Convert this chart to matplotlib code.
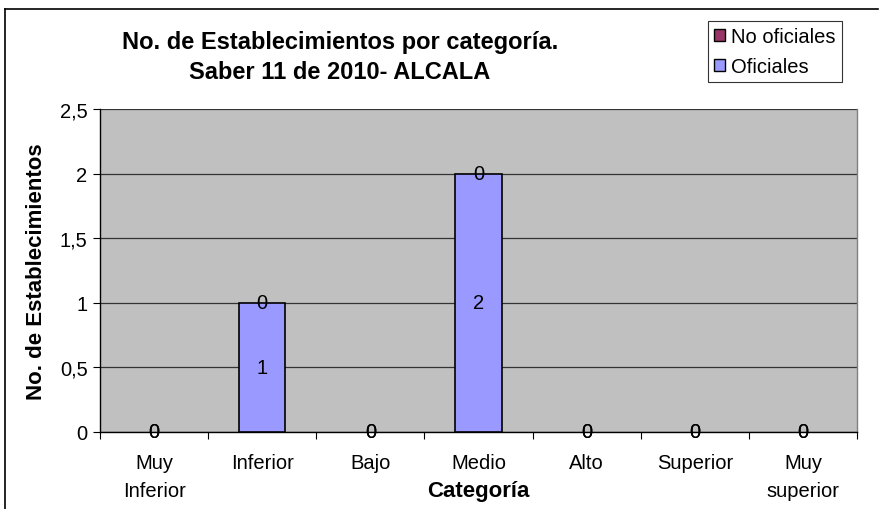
import numpy as np
import matplotlib.pyplot as plt
from matplotlib.lines import Line2D
from matplotlib.patches import Patch

plt.rcParams['font.family'] = ['Liberation Sans', 'DejaVu Sans']

categorias = ['Muy\nInferior', 'Inferior', 'Bajo', 'Medio', 'Alto', 'Superior', 'Muy\nsuperior']
oficiales = [0, 1, 0, 2, 0, 0, 0]
no_oficiales = [0, 0, 0, 0, 0, 0, 0]
yticks = [0, 0.5, 1, 1.5, 2, 2.5]
ytick_labels = ['0', '0,5', '1', '1,5', '2', '2,5']

W, H = 880, 510
fig = plt.figure(figsize=(W / 100, H / 100), dpi=100)
ax = fig.add_axes([100 / W, 77 / H, 757 / W, 323 / H])
ax.set_facecolor('#C0C0C0')

x = np.arange(len(categorias))
lw_of = [1.2 if v else 0 for v in oficiales]
lw_no = [1.2 if v else 0 for v in no_oficiales]
ax.bar(x, oficiales, width=0.43, color='#9999FF', edgecolor='black', linewidth=lw_of, zorder=3)
ax.bar(x, no_oficiales, width=0.43, bottom=oficiales, color='#993366',
       edgecolor='black', linewidth=lw_no, zorder=3)

# value labels: oficiales in the middle, no oficiales at the top of the stack
for xi, v, n in zip(x, oficiales, no_oficiales):
    ax.text(xi, v / 2, str(v), ha='center', va='center', fontsize=14.5, zorder=4)
    ax.text(xi, v + n, str(n), ha='center', va='center', fontsize=14.5, zorder=4)

ax.set_xlim(-0.5, len(categorias) - 0.5)
ax.set_ylim(0, 2.5)
ax.set_yticks(yticks)
ax.set_yticklabels(ytick_labels, fontsize=14.5)
ax.yaxis.grid(True, color='#333333', linewidth=0.9, zorder=1)
ax.set_axisbelow(True)

ax.set_xticks(x)
ax.set_xticklabels(categorias, fontsize=14.5, linespacing=1.6)
ax.set_xticks(np.arange(len(categorias) + 1) - 0.5, minor=True)
ax.tick_params(axis='x', which='major', length=0, pad=15)
ax.tick_params(axis='x', which='minor', length=5, width=0.8, direction='out')
ax.tick_params(axis='y', length=5, width=0.8, direction='out', pad=4)

ax.spines['left'].set_color('black')
ax.spines['bottom'].set_color('black')
ax.spines['top'].set_visible(False)
ax.spines['right'].set_color('#808080')
for s in ax.spines.values():
    s.set_linewidth(1)

ax.set_ylabel('No. de Establecimientos', fontsize=16, fontweight='bold', labelpad=9)
ax.set_xlabel('Categoría', fontsize=16, fontweight='bold', va='center')
ax.xaxis.set_label_coords(0.5, (510 - 492 - 77) / 323)

fig.text(340 / W, 1 - 43 / H, 'No. de Establecimientos por categoría.',
         ha='center', va='center', fontsize=17, fontweight='bold')
fig.text(340 / W, 1 - 73 / H, 'Saber 11 de 2010- ALCALA',
         ha='center', va='center', fontsize=17, fontweight='bold')

handles = [Patch(facecolor='#993366', edgecolor='black', label='No oficiales'),
           Patch(facecolor='#9999FF', edgecolor='black', label='Oficiales')]
leg = fig.legend(handles=handles, loc='upper left', bbox_to_anchor=(708 / W, 1 - 22 / H),
                 fontsize=14.5, frameon=True, fancybox=False, handlelength=0.55, handleheight=0.55,
                 handletextpad=0.3, borderpad=0.3, labelspacing=0.55, borderaxespad=0)
leg.get_frame().set_edgecolor('black')
leg.get_frame().set_linewidth(0.8)

# chart border
fig.add_artist(Line2D([5 / W, 5 / W], [0, 1 - 10 / H], color='black', linewidth=1.2))
fig.add_artist(Line2D([5 / W, 878 / W], [1 - 10 / H, 1 - 10 / H], color='black', linewidth=1.2))

fig.savefig('out.png', dpi=100)
